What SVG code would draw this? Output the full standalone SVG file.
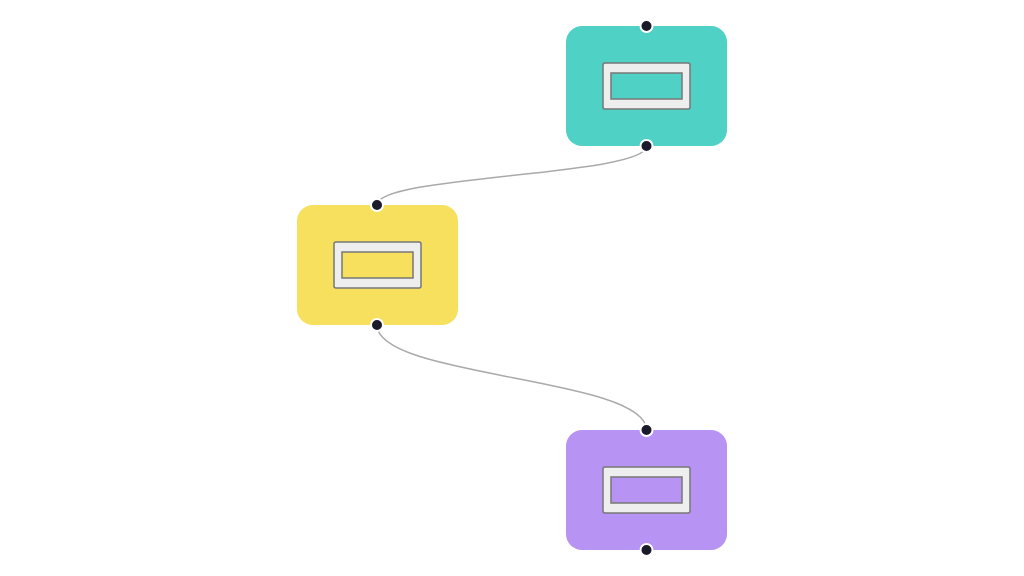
<svg xmlns="http://www.w3.org/2000/svg" width="1024" height="576" viewBox="0 0 1024 576">
  <style>
    .card { stroke: none; }
    .frame { fill: #eeeeee; stroke: #777777; stroke-width: 1.5; }
    .slot { stroke: #777777; stroke-width: 1.5; }
    .port { fill: #1b1a2b; stroke: #ffffff; stroke-width: 2; }
    .edge { fill: none; stroke: #aaaaaa; stroke-width: 1.5; }
  </style>
  <rect width="1024" height="576" fill="#ffffff"/>

  <g id="connectors">
    <path class="edge" d="M646.5 146 C646.5 176 377 175 377 205"/>
    <path class="edge" d="M377 325 C377 378 646.5 377 646.5 430"/>
  </g>

  <g id="node-teal">
    <rect class="card" x="566" y="26" width="161" height="120" rx="16" fill="#4fd1c5"/>
    <rect class="frame" x="603" y="63" width="87" height="46" rx="2"/>
    <rect class="slot" x="611" y="73" width="71" height="26" fill="#4fd1c5"/>
    <circle class="port" cx="646.5" cy="26" r="6"/>
    <circle class="port" cx="646.5" cy="146" r="6"/>
  </g>

  <g id="node-yellow">
    <rect class="card" x="297" y="205" width="161" height="120" rx="16" fill="#f6e05e"/>
    <rect class="frame" x="334" y="242" width="87" height="46" rx="2"/>
    <rect class="slot" x="342" y="252" width="71" height="26" fill="#f6e05e"/>
    <circle class="port" cx="377" cy="205" r="6"/>
    <circle class="port" cx="377" cy="325" r="6"/>
  </g>

  <g id="node-purple">
    <rect class="card" x="566" y="430" width="161" height="120" rx="16" fill="#b794f4"/>
    <rect class="frame" x="603" y="467" width="87" height="46" rx="2"/>
    <rect class="slot" x="611" y="477" width="71" height="26" fill="#b794f4"/>
    <circle class="port" cx="646.5" cy="430" r="6"/>
    <circle class="port" cx="646.5" cy="550" r="6"/>
  </g>
</svg>
